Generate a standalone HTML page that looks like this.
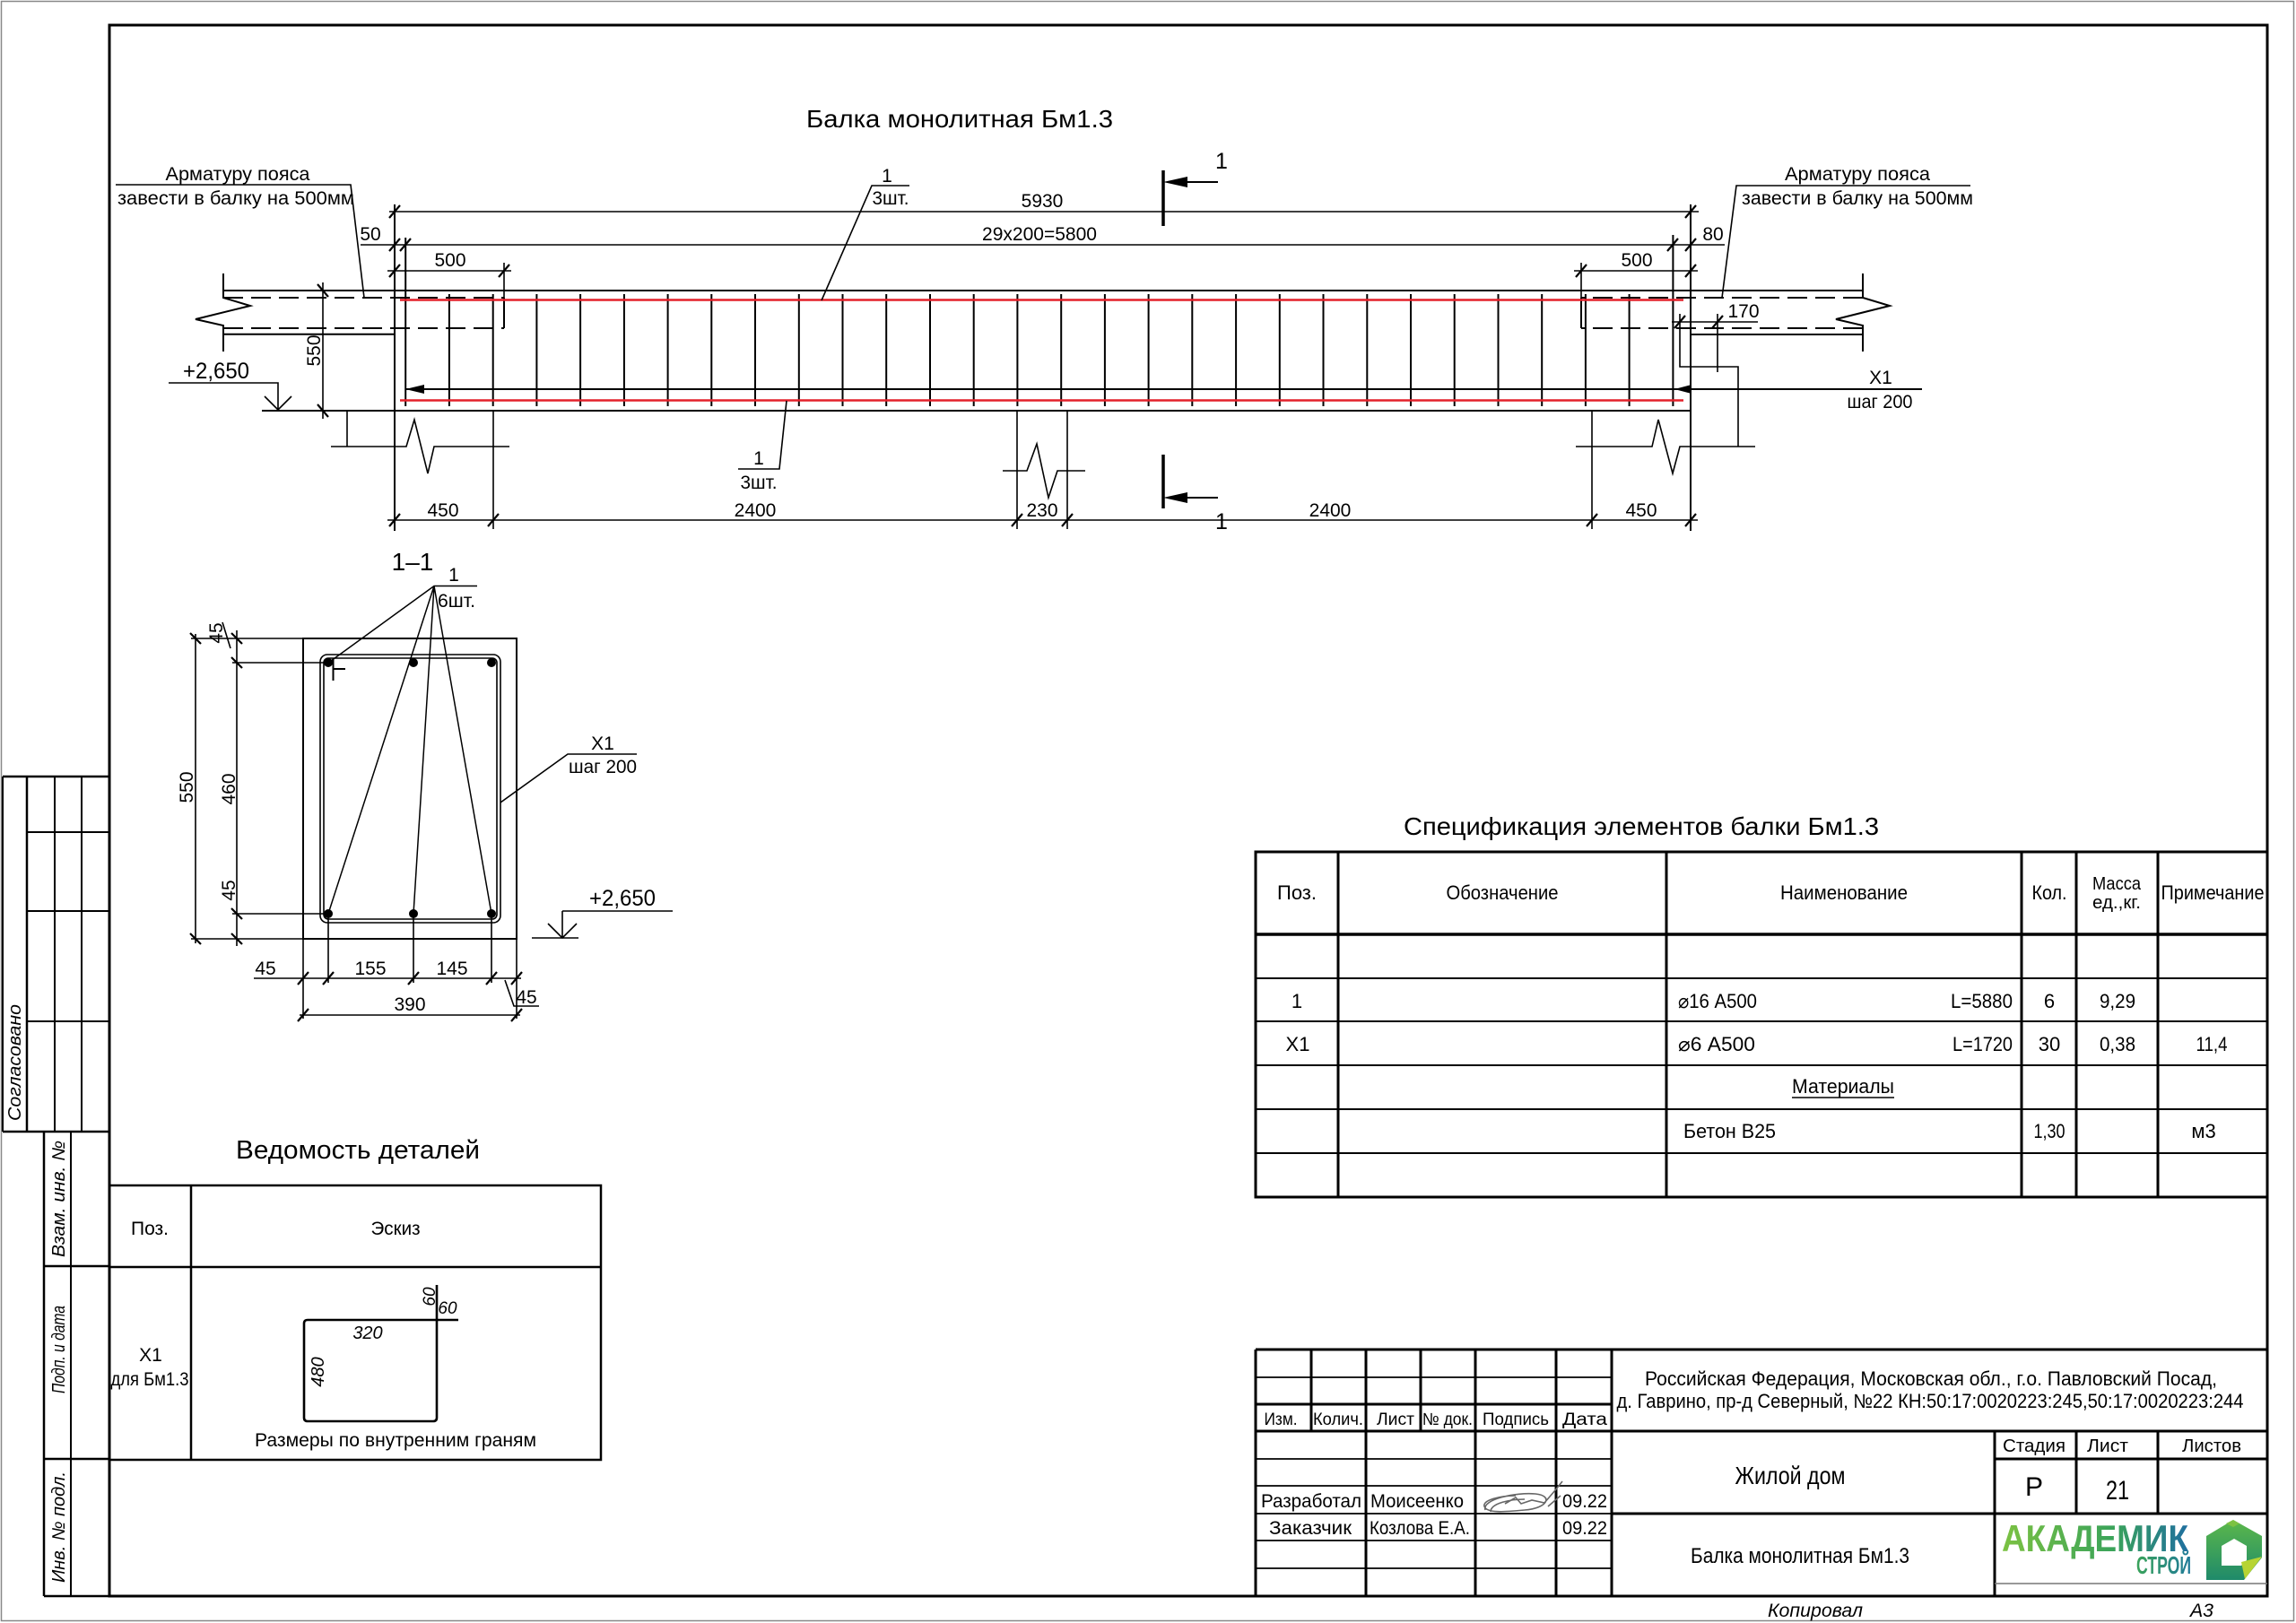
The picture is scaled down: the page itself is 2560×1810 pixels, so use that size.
<!DOCTYPE html>
<html><head><meta charset="utf-8"><style>
html,body{margin:0;padding:0;background:#fff}
svg{display:block}
text{font-family:"Liberation Sans","DejaVu Sans",sans-serif;fill:#000}
.i{font-style:italic}
</style></head><body>
<svg width="2560" height="1810" viewBox="0 0 2560 1810" xmlns="http://www.w3.org/2000/svg">
<defs>
<linearGradient id="gA" x1="0" y1="0" x2="1" y2="0"><stop offset="0" stop-color="#7cc242"/><stop offset="0.6" stop-color="#3aa35a"/><stop offset="1" stop-color="#1f6fa0"/></linearGradient>
<linearGradient id="gS" x1="0" y1="0" x2="1" y2="0"><stop offset="0" stop-color="#3aa35a"/><stop offset="1" stop-color="#1f7a9a"/></linearGradient>
<linearGradient id="gH" x1="0" y1="0" x2="0" y2="1"><stop offset="0" stop-color="#5cb84a"/><stop offset="1" stop-color="#1f8a6a"/></linearGradient>
</defs>
<rect width="2560" height="1810" fill="#fff"/>
<rect x="1.5" y="1.5" width="2556" height="1806" fill="none" stroke="#888" stroke-width="1.5"/>
<!-- main frame -->
<path d="M122 28 H2528 V1780 H122 Z" fill="none" stroke="#000" stroke-width="3"/>

<!-- ============ BEAM ============ -->
<g fill="none" stroke="#000" stroke-width="2">
<path d="M440 228 V592 M1885 228 V592 M249 324 H2077 M292 458 H1885 M249 372.7 H440 M1885 373 H2077"/>
<path d="M249 305 V332 L279 341 L218 356 L249 363 V392 M2077 305 V332 L2107 341 L2047 356 L2077 363 V392"/>
<path d="M562 332 V366 M1763 332 V366"/>
<path stroke-dasharray="22 9" d="M249 332 H562 M249 366 H562 M2077 332 H1763 M2077 366 H1763"/>
<!-- stirrups -->
<path d="M452.2 265 V453 M500.9 328 V453 M549.7 328 V453 M598.4 328 V453 M647.1 328 V453 M695.9 328 V453 M744.6 328 V453 M793.3 328 V453 M842 328 V453 M890.8 328 V453 M939.5 328 V453 M988.2 328 V453 M1037 328 V453 M1085.7 328 V453 M1134.4 328 V453 M1183.2 328 V453 M1231.9 328 V453 M1280.6 328 V453 M1329.3 328 V453 M1378.1 328 V453 M1426.8 328 V453 M1475.5 328 V453 M1524.3 328 V453 M1573 328 V453 M1621.7 328 V453 M1670.5 328 V453 M1719.2 328 V453 M1767.9 328 V453 M1816.6 328 V453 M1865.4 262 V453"/>
</g>
<path d="M446 334.5 H1877 M446 446.5 H1877" stroke="#e3202a" stroke-width="2.5" fill="none"/>
<path d="M452 434 H2143" stroke="#000" stroke-width="2" fill="none"/>
<polygon points="452,434 473,429 473,439" fill="#000"/>
<polygon points="1867,434 1886,429 1886,439" fill="#000"/>
<!-- dims -->
<g fill="none" stroke="#000" stroke-width="1.6">
<path d="M434 236 H1894 M402 273 H1923 M432 302 H570 M562 293 V332 M1755 302 H1893 M1763 293 V332 M432 580 H1893 M550 458 V590 M1134 458 V590 M1190 458 V590 M1775 458 V590 M360 315 V467 M1864 359 H1960 M1873 350 V409 H1938 V498 M1915 350 V415"/>
<path d="M387 458 V498 M369 498 H453 L462 468 L477 528 L484 498 H568 M1118 525 H1145 L1156 495 L1169 555 L1179 525 H1210 M1757 498 H1842 L1849 468 L1865 528 L1873 498 H1957"/>
<path d="M188 427 H310 V457 M295 442 L310 457 L325 442"/>
<path d="M916 335 L972 207 H1014 M877 447 L869 523 H823 M129 206 H391 L406 332 M2197 207 H1936 L1920 332"/>
</g>
<g fill="none" stroke="#000" stroke-width="2.2">
<path d="M434 243 L446 229 M1879 243 L1891 229 M434 280 L446 266 M446 280 L458 266 M1859 280 L1871 266 M1879 280 L1891 266 M434 309 L446 295 M556 309 L568 295 M1757 309 L1769 295 M1879 309 L1891 295 M434 587 L446 573 M544 587 L556 573 M1128 587 L1140 573 M1184 587 L1196 573 M1769 587 L1781 573 M1879 587 L1891 573 M354 317 L366 331 M354 451 L366 465 M1867 366 L1879 352 M1909 366 L1921 352"/>
</g>
<!-- section marks -->
<path d="M1297 190 V252 M1297 507 V567" stroke="#000" stroke-width="3.5"/>
<path d="M1320 203 H1358 M1320 555 H1358" stroke="#000" stroke-width="2"/>
<polygon points="1297,203 1324,197 1324,209" fill="#000"/>
<polygon points="1297,555 1324,549 1324,561" fill="#000"/>
<!-- beam texts -->
<text x="1070" y="142" font-size="28" text-anchor="middle" textLength="342" lengthAdjust="spacingAndGlyphs">Балка монолитная Бм1.3</text>
<text x="265" y="201" font-size="21" text-anchor="middle" textLength="161" lengthAdjust="spacingAndGlyphs">Арматуру пояса</text>
<text x="263" y="228" font-size="21" text-anchor="middle" textLength="264" lengthAdjust="spacingAndGlyphs">завести в балку на 500мм</text>
<text x="2071" y="201" font-size="21" text-anchor="middle" textLength="162" lengthAdjust="spacingAndGlyphs">Арматуру пояса</text>
<text x="2071" y="228" font-size="21" text-anchor="middle" textLength="258" lengthAdjust="spacingAndGlyphs">завести в балку на 500мм</text>
<text x="989" y="203" font-size="21" text-anchor="middle">1</text>
<text x="993" y="228" font-size="21" text-anchor="middle" textLength="41" lengthAdjust="spacingAndGlyphs">3шт.</text>
<text x="846" y="518" font-size="21" text-anchor="middle">1</text>
<text x="846" y="545" font-size="21" text-anchor="middle" textLength="41" lengthAdjust="spacingAndGlyphs">3шт.</text>
<g font-size="21" text-anchor="middle">
<text x="1162" y="231">5930</text>
<text x="1159" y="268" textLength="128" lengthAdjust="spacingAndGlyphs">29x200=5800</text>
<text x="413" y="268">50</text>
<text x="1910" y="268">80</text>
<text x="502" y="297">500</text>
<text x="1825" y="297">500</text>
<text x="494" y="576">450</text>
<text x="842" y="576">2400</text>
<text x="1162" y="576">230</text>
<text x="1483" y="576">2400</text>
<text x="1830" y="576">450</text>
<text x="1944" y="354">170</text>
<text transform="translate(357,391) rotate(-90)">550</text>
<text x="2097" y="428">X1</text>
<text x="2096" y="455" textLength="73" lengthAdjust="spacingAndGlyphs">шаг 200</text>
</g>
<text x="1362" y="188" font-size="25" text-anchor="middle">1</text>
<text x="1362" y="590" font-size="25" text-anchor="middle">1</text>
<text x="241" y="422" font-size="25" text-anchor="middle" textLength="74" lengthAdjust="spacingAndGlyphs">+2,650</text>

<!-- ============ SECTION 1-1 ============ -->
<text x="460" y="636" font-size="28" text-anchor="middle">1–1</text>
<text x="506" y="648" font-size="21" text-anchor="middle">1</text>
<text x="509" y="677" font-size="21" text-anchor="middle" textLength="42" lengthAdjust="spacingAndGlyphs">6шт.</text>
<g fill="none" stroke="#000">
<rect x="338" y="712" width="238" height="335" stroke-width="2"/>
<rect x="357" y="730" width="201" height="299" rx="8" stroke-width="1.6"/>
<rect x="361" y="734" width="193" height="291" rx="5" stroke-width="1.6"/>
<path stroke-width="2" d="M371.5 734 V759 M371 746 H385"/>
<path stroke-width="1.5" d="M532 653.5 H484 L369 737 M484 653.5 L366 1019 M484 653.5 L461 1019 M484 653.5 L548 1019"/>
<path stroke-width="1.6" d="M213 712 H338 M213 1047 H338 M218 707 V1052 M259 739 H366 M259 1019 H366 M264 703 V1055 M257 723 L248 694 M338 1047 V1136 M576 1047 V1136 M366 1019 V1096 M461 1019 V1096 M548 1019 V1096 M283 1091 H581 M334 1132 H580 M563 1093 L573 1122 H601 M558 895 L633 841 H710 M627 1016 H750 M627 1016 V1046 M611 1030 L627 1046 L643 1030 M593 1046 H645"/>
<path stroke-width="2.2" d="M212 706 L224 718 M212 1041 L224 1053 M258 706 L270 718 M258 733 L270 745 M258 1013 L270 1025 M258 1041 L270 1053 M332 1098 L344 1084 M360 1098 L372 1084 M455 1098 L467 1084 M542 1098 L554 1084 M570 1098 L582 1084 M332 1139 L344 1125 M570 1139 L582 1125"/>
</g>
<g fill="#000"><circle cx="366" cy="739" r="5"/><circle cx="461" cy="739" r="5"/><circle cx="548" cy="739" r="5"/><circle cx="366" cy="1019" r="5"/><circle cx="461" cy="1019" r="5"/><circle cx="548" cy="1019" r="5"/></g>
<g font-size="21" text-anchor="middle">
<text transform="translate(215,878) rotate(-90)">550</text>
<text transform="translate(262,880) rotate(-90)">460</text>
<text transform="translate(262,993) rotate(-90)">45</text>
<text transform="translate(248,706) rotate(-90)">45</text>
<text x="296" y="1087">45</text>
<text x="413" y="1087">155</text>
<text x="504" y="1087">145</text>
<text x="457" y="1127">390</text>
<text x="587" y="1119">45</text>
<text x="672" y="836">X1</text>
<text x="672" y="862" textLength="76" lengthAdjust="spacingAndGlyphs">шаг 200</text>
</g>
<text x="694" y="1010" font-size="25" text-anchor="middle" textLength="74" lengthAdjust="spacingAndGlyphs">+2,650</text>

<!-- ============ ВЕДОМОСТЬ ДЕТАЛЕЙ ============ -->
<text x="399" y="1292" font-size="29" text-anchor="middle" textLength="272" lengthAdjust="spacingAndGlyphs">Ведомость деталей</text>
<path d="M122 1322 H670 V1628 H122 M213 1322 V1628 M122 1413 H670" fill="none" stroke="#000" stroke-width="2.5"/>
<text x="167" y="1377" font-size="21" text-anchor="middle">Поз.</text>
<text x="441" y="1377" font-size="21" text-anchor="middle" textLength="55" lengthAdjust="spacingAndGlyphs">Эскиз</text>
<text x="168" y="1518" font-size="21" text-anchor="middle">X1</text>
<text x="167" y="1545" font-size="21" text-anchor="middle" textLength="87" lengthAdjust="spacingAndGlyphs">для Бм1.3</text>
<path d="M487 1433 V1581 Q487 1585 483 1585 H343 Q339 1585 339 1581 V1476 Q339 1472 343 1472 H511" fill="none" stroke="#000" stroke-width="2.6"/>
<text x="410" y="1493" font-size="20" class="i" text-anchor="middle">320</text>
<text transform="translate(361,1530) rotate(-90)" font-size="20" class="i" text-anchor="middle">480</text>
<text transform="translate(485,1446) rotate(-90)" font-size="19" class="i" text-anchor="middle">60</text>
<text x="499" y="1465" font-size="19" class="i" text-anchor="middle">60</text>
<text x="441" y="1613" font-size="21" text-anchor="middle" textLength="314" lengthAdjust="spacingAndGlyphs">Размеры по внутренним граням</text>

<!-- ============ LEFT MARGIN ============ -->
<g fill="none" stroke="#000">
<path stroke-width="2.5" d="M3 866 H122 M3 1262 H122 M30 866 V1262 M49 1262 V1780 M49 1412 H122 M49 1627 H122 M49 1780 H122"/>
<path stroke-width="2" d="M3 866 V1262 M61 866 V1262 M91 866 V1262 M30 928 H122 M30 1016 H122 M30 1139 H122 M79 1262 V1780"/>
</g>
<g font-size="20" class="i" text-anchor="middle">
<text class="i" transform="translate(23,1185) rotate(-90)" textLength="130" lengthAdjust="spacingAndGlyphs">Согласовано</text>
<text class="i" transform="translate(72,1337) rotate(-90)" textLength="130" lengthAdjust="spacingAndGlyphs">Взам. инв. №</text>
<text class="i" transform="translate(72,1505) rotate(-90)" textLength="98" lengthAdjust="spacingAndGlyphs">Подп. и дата</text>
<text class="i" transform="translate(72,1703) rotate(-90)" textLength="124" lengthAdjust="spacingAndGlyphs">Инв. № подл.</text>
</g>

<!-- ============ SPEC TABLE ============ -->
<text x="1830" y="931" font-size="28" text-anchor="middle" textLength="530" lengthAdjust="spacingAndGlyphs">Спецификация элементов балки Бм1.3</text>
<g fill="none" stroke="#000">
<rect x="1400" y="950" width="1128" height="385" stroke-width="3"/>
<path stroke-width="3.5" d="M1400 1042 H2528"/>
<path stroke-width="3" d="M1492 950 V1335 M1858 950 V1335 M2254 950 V1335 M2315 950 V1335 M2406 950 V1335"/>
<path stroke-width="2" d="M1400 1091 H2528 M1400 1139 H2528 M1400 1188 H2528 M1400 1237 H2528 M1400 1286 H2528"/>
</g>
<g font-size="22" text-anchor="middle">
<text x="1446" y="1003">Поз.</text>
<text x="1675" y="1003" textLength="125" lengthAdjust="spacingAndGlyphs">Обозначение</text>
<text x="2056" y="1003" textLength="142" lengthAdjust="spacingAndGlyphs">Наименование</text>
<text x="2285" y="1003" textLength="39" lengthAdjust="spacingAndGlyphs">Кол.</text>
<text x="2360" y="992" font-size="20" textLength="54" lengthAdjust="spacingAndGlyphs">Масса</text>
<text x="2360" y="1013" font-size="20" textLength="54" lengthAdjust="spacingAndGlyphs">ед.,кг.</text>
<text x="2467" y="1003" textLength="115" lengthAdjust="spacingAndGlyphs">Примечание</text>
<text x="1446" y="1124">1</text>
<text x="2285" y="1124">6</text>
<text x="2361" y="1124" textLength="40" lengthAdjust="spacingAndGlyphs">9,29</text>
<text x="1447" y="1172">X1</text>
<text x="2285" y="1172">30</text>
<text x="2361" y="1172" textLength="40" lengthAdjust="spacingAndGlyphs">0,38</text>
<text x="2466" y="1172" textLength="35" lengthAdjust="spacingAndGlyphs">11,4</text>
<text x="2055" y="1219" textLength="114" lengthAdjust="spacingAndGlyphs">Материалы</text>
<text x="2285" y="1269" textLength="35" lengthAdjust="spacingAndGlyphs">1,30</text>
<text x="2457" y="1269">м3</text>
</g>
<path d="M1998 1224 H2112" stroke="#000" stroke-width="1.6"/>
<g font-size="22">
<text x="1871" y="1124" textLength="88" lengthAdjust="spacingAndGlyphs">⌀16 А500</text>
<text x="2175" y="1124" textLength="69" lengthAdjust="spacingAndGlyphs">L=5880</text>
<text x="1871" y="1172" textLength="86" lengthAdjust="spacingAndGlyphs">⌀6  А500</text>
<text x="2177" y="1172" textLength="67" lengthAdjust="spacingAndGlyphs">L=1720</text>
<text x="1877" y="1269" textLength="103" lengthAdjust="spacingAndGlyphs">Бетон В25</text>
</g>

<!-- ============ TITLE BLOCK ============ -->
<g fill="none" stroke="#000">
<path stroke-width="3" d="M1400 1505 H2528 M1400 1566 H1797 M1400 1596 H2528 M2224 1627 H2528 M1797 1688 H2224 M2224 1688 H2528 M1400 1505 V1780 M1462 1505 V1596 M1523 1505 V1780 M1584 1505 V1596 M1645 1505 V1780 M1735 1505 V1780 M1797 1505 V1780 M2224 1596 V1780 M2315 1596 V1688 M2406 1596 V1688"/>
<path stroke-width="1.8" d="M1400 1536 H1797 M1400 1627 H1797 M1400 1657 H1797 M1400 1688 H1797 M1400 1718 H1797 M1400 1749 H1797"/>
<path stroke-width="1.5" stroke="#777" d="M2224 1766 H2528"/>
</g>
<g font-size="19" text-anchor="middle">
<text x="1428" y="1589" textLength="37" lengthAdjust="spacingAndGlyphs">Изм.</text>
<text x="1492" y="1589" textLength="56" lengthAdjust="spacingAndGlyphs">Колич.</text>
<text x="1556" y="1589" textLength="42" lengthAdjust="spacingAndGlyphs">Лист</text>
<text x="1614" y="1589" textLength="56" lengthAdjust="spacingAndGlyphs">№ док.</text>
<text x="1690" y="1589" textLength="74" lengthAdjust="spacingAndGlyphs">Подпись</text>
<text x="1767" y="1589" textLength="50" lengthAdjust="spacingAndGlyphs">Дата</text>
<text x="1462" y="1681" font-size="21" textLength="112" lengthAdjust="spacingAndGlyphs">Разработал</text>
<text x="1580" y="1681" font-size="21" textLength="104" lengthAdjust="spacingAndGlyphs">Моисеенко</text>
<text x="1767" y="1681" font-size="21" textLength="50" lengthAdjust="spacingAndGlyphs">09.22</text>
<text x="1461" y="1711" font-size="21" textLength="92" lengthAdjust="spacingAndGlyphs">Заказчик</text>
<text x="1583" y="1711" font-size="21" textLength="112" lengthAdjust="spacingAndGlyphs">Козлова Е.А.</text>
<text x="1767" y="1711" font-size="21" textLength="50" lengthAdjust="spacingAndGlyphs">09.22</text>
<text x="2153" y="1545" font-size="22" textLength="638" lengthAdjust="spacingAndGlyphs">Российская Федерация, Московская обл., г.о. Павловский Посад,</text>
<text x="2152" y="1570" font-size="22" textLength="699" lengthAdjust="spacingAndGlyphs">д. Гаврино, пр-д Северный, №22 КН:50:17:0020223:245,50:17:0020223:244</text>
<text x="1996" y="1655" font-size="28" textLength="123" lengthAdjust="spacingAndGlyphs">Жилой дом</text>
<text x="2007" y="1743" font-size="24" textLength="244" lengthAdjust="spacingAndGlyphs">Балка монолитная Бм1.3</text>
<text x="2268" y="1619" font-size="20" textLength="70" lengthAdjust="spacingAndGlyphs">Стадия</text>
<text x="2350" y="1619" font-size="20" textLength="46" lengthAdjust="spacingAndGlyphs">Лист</text>
<text x="2466" y="1619" font-size="20" textLength="66" lengthAdjust="spacingAndGlyphs">Листов</text>
<text x="2268" y="1668" font-size="30">Р</text>
<text x="2361" y="1672" font-size="30" textLength="26" lengthAdjust="spacingAndGlyphs">21</text>
<text x="2024" y="1803" font-size="21" class="i" textLength="106" lengthAdjust="spacingAndGlyphs">Копировал</text>
<text x="2455" y="1803" font-size="21" class="i" textLength="26" lengthAdjust="spacingAndGlyphs">А3</text>
</g>
<!-- signature -->
<path d="M1656 1684 C1652 1672 1690 1664 1712 1666 C1732 1668 1726 1682 1700 1684 C1678 1686 1658 1688 1655 1680 C1653 1673 1672 1668 1690 1668 M1662 1686 C1662 1676 1685 1672 1700 1672 M1678 1677 L1690 1670 L1696 1677 L1708 1673 L1722 1676 L1734 1662 L1742 1652 M1726 1680 L1740 1668" fill="none" stroke="#666" stroke-width="1.6"/>
<!-- logo -->
<text x="2232" y="1730" font-size="42" font-weight="bold" fill="url(#gA)" style="fill:url(#gA)" textLength="208" lengthAdjust="spacingAndGlyphs">АКАДЕМИК</text>
<text x="2382" y="1755" font-size="28" font-weight="bold" style="fill:url(#gS)" textLength="61" lengthAdjust="spacingAndGlyphs">СТРОЙ</text>
<path d="M2490 1695 L2522 1713 L2522 1737 L2502 1762 L2460 1762 L2460 1713 Z M2491 1716 L2477 1724 L2477 1746 L2499 1746 L2505 1740 L2505 1724 Z" fill="url(#gH)" fill-rule="evenodd"/>
<path d="M2499 1742 L2522 1736 L2503 1761 Z" fill="#b7d433"/>
<path d="M2482 1699 L2490 1695 L2497 1699 L2490 1703 Z" fill="#7cc242"/>
</svg>
</body></html>
